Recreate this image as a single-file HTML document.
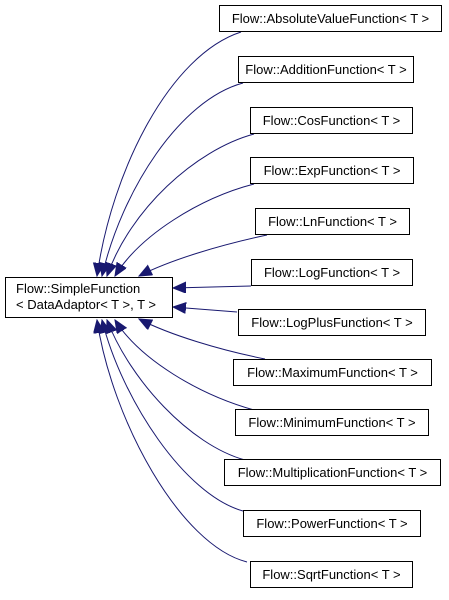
<!DOCTYPE html>
<html><head><meta charset="utf-8"><style>
html,body{margin:0;padding:0;background:#fff;}
svg text{font-family:"Liberation Sans",Arial,sans-serif;font-size:13px;fill:#000;}
</style></head><body>
<svg width="449" height="595" viewBox="0 0 449 595" xmlns="http://www.w3.org/2000/svg">
<defs>
<marker id="a" markerUnits="userSpaceOnUse" markerWidth="14" markerHeight="12" refX="13" refY="5.5" orient="auto">
<path d="M0,0 L13,5.5 L0,11 z" fill="#191970" stroke="#191970"/>
</marker>
</defs>
<g fill="none" stroke="#191970" stroke-width="1" marker-end="url(#a)">
<path d="M241,32 C170,55 112,170 97,276"/>
<path d="M243,83 C180,100 122,190 102,276"/>
<path d="M254,134 C195,150 130,210 107,276"/>
<path d="M254,184 C200,198 140,235 115,276"/>
<path d="M267,235 C220,245 170,260 139,276"/>
<path d="M251,286 L173,288"/>
<path d="M237,312 L173,307"/>
<path d="M265,359 C220,350 170,335 139,319"/>
<path d="M254,410 C200,395 140,360 115,320"/>
<path d="M245,460 C190,445 130,380 107,320"/>
<path d="M243,511 C185,495 122,400 102,320"/>
<path d="M247,562 C180,545 112,420 97,320"/>
</g>
<g fill="#fff" stroke="#000" stroke-width="1">
<rect x="5.5" y="277.5" width="167" height="40"/>
<rect x="219.5" y="5.5" width="222" height="26"/>
<rect x="238.5" y="56.5" width="175" height="26"/>
<rect x="250.5" y="107.5" width="162" height="26"/>
<rect x="250.5" y="157.5" width="163" height="26"/>
<rect x="255.5" y="208.5" width="154" height="26"/>
<rect x="251.5" y="259.5" width="161" height="26"/>
<rect x="238.5" y="309.5" width="187" height="26"/>
<rect x="233.5" y="359.5" width="198" height="26"/>
<rect x="235.5" y="409.5" width="193" height="26"/>
<rect x="224.5" y="459.5" width="216" height="26"/>
<rect x="243.5" y="510.5" width="177" height="26"/>
<rect x="250.5" y="561.5" width="162" height="26"/>
</g>
<text x="16" y="293">Flow::SimpleFunction</text>
<text x="16" y="309">&lt; DataAdaptor&lt; T &gt;, T &gt;</text>
<g text-anchor="middle">
<text x="330.5" y="23">Flow::AbsoluteValueFunction&lt; T &gt;</text>
<text x="326" y="74">Flow::AdditionFunction&lt; T &gt;</text>
<text x="331.5" y="125">Flow::CosFunction&lt; T &gt;</text>
<text x="332" y="175">Flow::ExpFunction&lt; T &gt;</text>
<text x="332.5" y="226">Flow::LnFunction&lt; T &gt;</text>
<text x="332" y="277">Flow::LogFunction&lt; T &gt;</text>
<text x="332" y="327">Flow::LogPlusFunction&lt; T &gt;</text>
<text x="332.5" y="377">Flow::MaximumFunction&lt; T &gt;</text>
<text x="332" y="427">Flow::MinimumFunction&lt; T &gt;</text>
<text x="332.5" y="477">Flow::MultiplicationFunction&lt; T &gt;</text>
<text x="332" y="528">Flow::PowerFunction&lt; T &gt;</text>
<text x="331.5" y="579">Flow::SqrtFunction&lt; T &gt;</text>
</g>
</svg>
</body></html>
